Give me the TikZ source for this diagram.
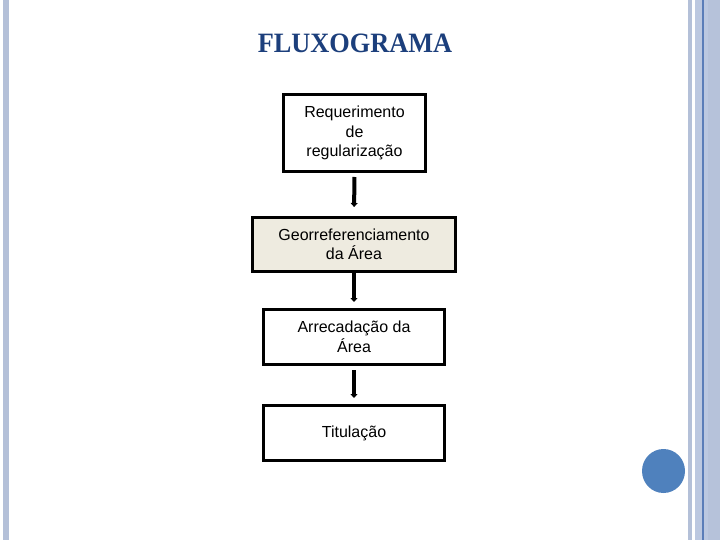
\documentclass[tikz,border=0pt]{standalone}
\usepackage{fontspec}
\setmainfont{Liberation Sans}
\newfontfamily\titlefont{Liberation Serif}
\usetikzlibrary{arrows.meta}
\definecolor{stripe}{HTML}{B4C0D8}
\definecolor{stripeb}{HTML}{BCC8E0}
\definecolor{stripec}{HTML}{B6C2DA}
\definecolor{stripeline}{HTML}{5B7DB8}
\definecolor{titleblue}{HTML}{1C3F7C}
\definecolor{dotblue}{HTML}{4F81BD}
\definecolor{beige}{HTML}{EEEBE0}
\tikzset{
  flowbox/.style={draw=black, line width=3pt, fill=white, align=center,
    inner sep=0pt, font=\fontsize{16pt}{19.5pt}\selectfont},
  flowarrow/.style={line width=4pt, -{Triangle[width=7pt,length=4pt]}},
}
\begin{document}
\begin{tikzpicture}[x=1pt,y=-1pt]
\useasboundingbox (0,0) rectangle (720,540);
\fill[white] (0,0) rectangle (720,540);
% side stripes
\fill[stripe] (3,0) rectangle (9,540);
\fill[stripe] (688,0) rectangle (692,540);
\fill[stripeb] (695,0) rectangle (720,540);
\fill[stripec] (708,0) rectangle (720,540);
\fill[stripeline] (702,0) rectangle (703.5,540);
% title
\node[anchor=base, text=titleblue, inner sep=0pt] (title) at (355,53)
  {\scalebox{0.94}[1]{\titlefont\bfseries\fontsize{28pt}{30pt}\selectfont FLUXOGRAMA}};
% boxes
\node[flowbox, minimum width=142pt, minimum height=77pt] (b1) at (354.5,133)
  {Requerimento\\de\\regularização};
\node[flowbox, fill=beige, minimum width=203pt, minimum height=54pt] (b2) at (354,244.5)
  {\raisebox{-2pt}{Georreferenciamento}\\\raisebox{-2pt}{da Área}};
\node[flowbox, minimum width=181pt, minimum height=55pt] (b3) at (354,337)
  {Arrecadação da\\Área};
\node[flowbox, minimum width=181pt, minimum height=55pt] (b4) at (354,433)
  {\raisebox{3pt}{Titulação}};
% arrows
\draw[flowarrow, shorten <=4pt, shorten >=9pt] (b1.south) -- (b2.north);
\draw[flowarrow, shorten >=6pt] (b2.south) -- (b3.north);
\draw[flowarrow, shorten <=4pt, shorten >=6pt] (b3.south) -- (b4.north);
% decorative dot
\fill[dotblue] (663.5,471) ellipse (21.5pt and 22pt);
\end{tikzpicture}
\end{document}
